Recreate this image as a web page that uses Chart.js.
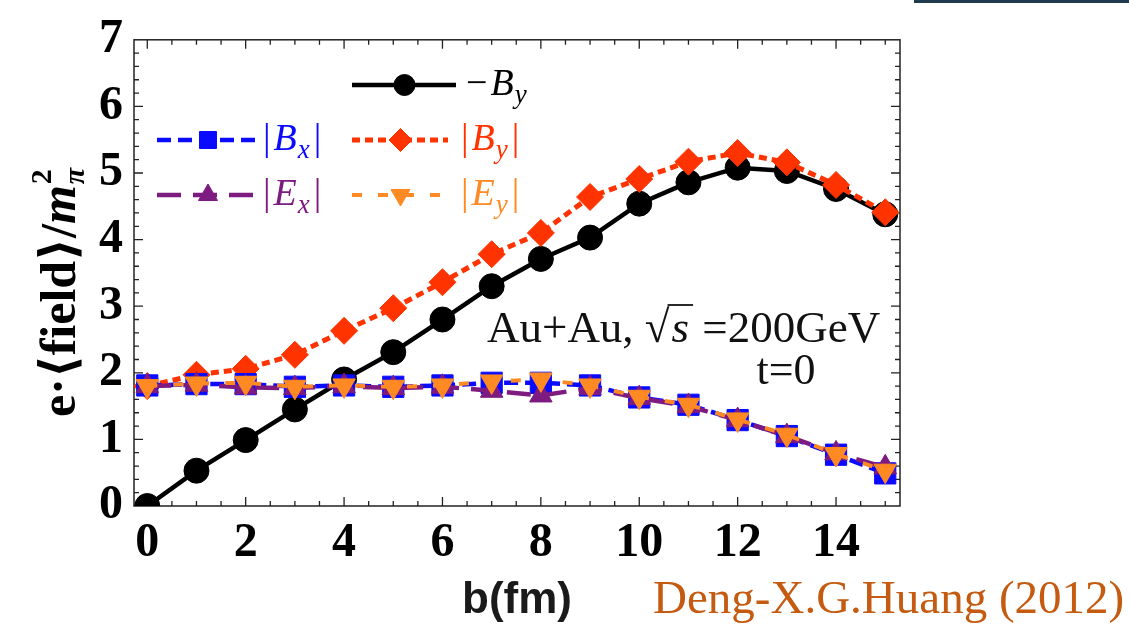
<!DOCTYPE html>
<html>
<head>
<meta charset="utf-8">
<title>e field vs b</title>
<script src="https://cdn.jsdelivr.net/npm/chart.js@4.4.1/dist/chart.umd.min.js"></script>
<style>
  html, body { margin: 0; padding: 0; background: #fff; }
  canvas { display: block; }
</style>
</head>
<body>
<canvas id="fields" width="1129" height="624"></canvas>
<script>
// impact parameter b (fm)
const impactParams = [0, 1, 2, 3, 4, 5, 6, 7, 8, 9, 10, 11, 12, 13, 14, 15];

// e<field>/m_pi^2
const minusBy = [0.0, 0.53, 0.99, 1.45, 1.90, 2.31, 2.80, 3.30, 3.71, 4.03, 4.54, 4.86, 5.08, 5.03, 4.76, 4.38];
const absBy   = [1.80, 1.97, 2.06, 2.27, 2.63, 2.97, 3.36, 3.78, 4.10, 4.64, 4.91, 5.17, 5.30, 5.16, 4.82, 4.41];
const absBx   = [1.81, 1.83, 1.83, 1.79, 1.81, 1.79, 1.81, 1.85, 1.85, 1.81, 1.63, 1.52, 1.29, 1.05, 0.77, 0.49];
const absEx   = [1.80, 1.82, 1.78, 1.77, 1.80, 1.77, 1.79, 1.73, 1.66, 1.77, 1.62, 1.50, 1.29, 1.05, 0.79, 0.58];
const absEy   = [1.80, 1.84, 1.85, 1.79, 1.81, 1.79, 1.81, 1.87, 1.90, 1.81, 1.64, 1.52, 1.30, 1.07, 0.78, 0.53];

const xTickValues = [0, 2, 4, 6, 8, 10, 12, 14];
const yTickValues = [0, 1, 2, 3, 4, 5, 6, 7];

const SERIF = '"Liberation Serif", "Times New Roman", "DejaVu Serif", serif';
const SANS = '"Liberation Sans", Arial, sans-serif';

function toPoints(values) {
    let pts = [];
    for (let i = 0; i < values.length; i++) {
        pts.push({ x: impactParams[i], y: values[i] });
    }
    return pts;
}

function makeSeries(label, values, color, dash, width, pointStyle, radius, rotation) {
    return {
        label: label,
        data: toPoints(values),
        borderColor: color,
        backgroundColor: color,
        borderWidth: width,
        borderDash: dash,
        pointStyle: pointStyle,
        pointRadius: radius,
        pointRotation: rotation || 0,
        pointBorderColor: color,
        pointBackgroundColor: color,
        pointBorderWidth: 1,
        tension: 0
    };
}

// first dataset is drawn on top
const datasets = [
    makeSeries('|Ey|', absEy, '#ff8a24', [10, 16], 4, 'triangle', 13, 180),
    makeSeries('|Ex|', absEx, '#7e1b80', [24, 12], 4.5, 'triangle', 13, 0),
    makeSeries('|Bx|', absBx, '#0a0aff', [14, 7], 4.5, 'rect', 15, 0),
    makeSeries('|By|', absBy, '#ff3300', [8, 5], 5, 'rectRot', 13.5, 0),
    makeSeries('-By', minusBy, '#000000', [], 4.5, 'circle', 12.5, 0)
];

// where each legend row sits
const legendRows = [
    { ds: 4, x1: 352, x2: 456, y: 85, r: 10.5, textX: 466, pre: '\u2212', letter: 'B', sub: 'y', post: '' },
    { ds: 2, x1: 157, x2: 258, y: 140, r: 12, textX: 263, pre: '|', letter: 'B', sub: 'x', post: '|' },
    { ds: 3, x1: 352, x2: 448, y: 140, r: 11.5, textX: 461, pre: '|', letter: 'B', sub: 'y', post: '|' },
    { ds: 1, x1: 157, x2: 258, y: 195, r: 11, textX: 263, pre: '|', letter: 'E', sub: 'x', post: '|' },
    { ds: 0, x1: 352, x2: 448, y: 195, r: 11, textX: 461, pre: '|', letter: 'E', sub: 'y', post: '|' }
];

function drawPieces(ctx, x, y, pieces) {
    for (const p of pieces) {
        ctx.font = p.font;
        ctx.fillStyle = p.color;
        ctx.fillText(p.text, x, y + (p.dy || 0));
        x += ctx.measureText(p.text).width + (p.gap || 0);
    }
    return x;
}

const framePlugin = {
    id: 'frame',
    beforeDatasetsDraw(chart) {
        const ctx = chart.ctx;
        const a = chart.chartArea;
        const xs = chart.scales.x;
        const ys = chart.scales.y;
        ctx.save();
        ctx.strokeStyle = '#222';
        ctx.lineWidth = 1.5;
        ctx.strokeRect(a.left, a.top, a.right - a.left, a.bottom - a.top);
        ctx.lineWidth = 1.3;
        ctx.beginPath();
        for (let i = 0; i <= 30; i++) {
            const v = i / 2;
            const px = xs.getPixelForValue(v);
            const len = (i % 4 === 0) ? 9 : 5;
            ctx.moveTo(px, a.bottom); ctx.lineTo(px, a.bottom - len);
            ctx.moveTo(px, a.top); ctx.lineTo(px, a.top + len);
        }
        for (let i = 1; i < 35; i++) {
            const py = ys.getPixelForValue(i / 5);
            const len = (i % 5 === 0) ? 9 : 5;
            ctx.moveTo(a.left, py); ctx.lineTo(a.left + len, py);
            ctx.moveTo(a.right, py); ctx.lineTo(a.right - len, py);
        }
        ctx.stroke();
        ctx.restore();
    },
    afterDraw(chart) {
        const ctx = chart.ctx;
        ctx.save();

        // legend
        for (const row of legendRows) {
            const ds = chart.data.datasets[row.ds];
            ctx.save();
            ctx.strokeStyle = ds.borderColor;
            ctx.lineWidth = ds.borderWidth;
            ctx.setLineDash(ds.borderDash);
            ctx.beginPath();
            ctx.moveTo(row.x1, row.y);
            ctx.lineTo(row.x2, row.y);
            ctx.stroke();
            ctx.setLineDash([]);
            ctx.fillStyle = ds.backgroundColor;
            ctx.strokeStyle = ds.borderColor;
            ctx.lineWidth = 1;
            Chart.helpers.drawPoint(ctx, {
                pointStyle: ds.pointStyle,
                radius: row.r,
                rotation: ds.pointRotation,
                borderWidth: 1
            }, (row.x1 + row.x2) / 2 + 0.5, row.y);
            ctx.restore();

            ctx.textBaseline = 'alphabetic';
            ctx.textAlign = 'left';
            drawPieces(ctx, row.textX, row.y + 10, [
                { text: row.pre, font: '38px ' + SERIF, color: ds.borderColor, gap: 3 },
                { text: row.letter, font: 'italic 38px ' + SERIF, color: ds.borderColor, gap: 1 },
                { text: row.sub, font: 'italic 27px ' + SERIF, color: ds.borderColor, dy: 8, gap: 4 },
                { text: row.post, font: '38px ' + SERIF, color: ds.borderColor }
            ]);
        }

        // collision label
        ctx.textBaseline = 'alphabetic';
        ctx.textAlign = 'left';
        let x = drawPieces(ctx, 487, 342, [
            { text: 'Au+Au, ', font: '45px ' + SERIF, color: '#111' },
            { text: '\u221A', font: '45px ' + SERIF, color: '#111' }
        ]);
        ctx.font = 'italic 45px ' + SERIF;
        const sw = ctx.measureText('s').width;
        ctx.fillText('s', x + 2, 342);
        ctx.strokeStyle = '#111';
        ctx.lineWidth = 1.8;
        ctx.beginPath();
        ctx.moveTo(x - 2, 305);
        ctx.lineTo(x + sw + 6, 305);
        ctx.stroke();
        ctx.font = '45px ' + SERIF;
        ctx.fillText(' =200GeV', x + sw + 4, 342);
        ctx.textAlign = 'center';
        ctx.font = '44px ' + SERIF;
        ctx.fillText('t=0', 786, 384);

        // y axis title
        ctx.save();
        ctx.translate(75, 417);
        ctx.rotate(-Math.PI / 2);
        ctx.textAlign = 'left';
        x = drawPieces(ctx, 0, 0, [
            { text: 'e\u00B7\u27E8field\u27E9/', font: 'bold 50px ' + SERIF, color: '#000' },
            { text: 'm', font: 'italic bold 50px ' + SERIF, color: '#000', gap: 1 }
        ]);
        ctx.font = 'italic bold 30px ' + SERIF;
        ctx.fillText('\u03C0', x, 9);
        ctx.font = 'bold 30px ' + SERIF;
        ctx.fillText('2', x, -24);
        ctx.restore();

        // source note and slide edge
        ctx.textAlign = 'left';
        ctx.font = '47px ' + SERIF;
        ctx.fillStyle = '#c55a11';
        ctx.fillText('Deng-X.G.Huang (2012)', 653, 613);
        ctx.fillStyle = '#1f3b4d';
        ctx.fillRect(914, 0, 215, 3);

        ctx.restore();
    }
};

const ctxFields = document.getElementById('fields').getContext('2d');

const fieldConfig = {
    type: 'line',
    data: { datasets: datasets },
    options: {
        responsive: false,
        devicePixelRatio: 1,
        animation: false,
        layout: { padding: { left: 0, right: 229, top: 33, bottom: 0 } },
        plugins: {
            legend: { display: false },
            tooltip: { enabled: false }
        },
        scales: {
            x: {
                type: 'linear',
                min: -0.27,
                max: 15.3,
                grid: { display: false, drawTicks: false },
                border: { display: false },
                afterBuildTicks: function (scale) {
                    scale.ticks = xTickValues.map(v => ({ value: v }));
                },
                afterFit: function (scale) { scale.height = 118; },
                ticks: {
                    autoSkip: false,
                    maxRotation: 0,
                    padding: 9,
                    color: '#000',
                    font: { family: SERIF, size: 48, weight: 'bold' }
                },
                title: {
                    display: true,
                    text: 'b(fm)',
                    color: '#1a1a1a',
                    padding: { top: 0, bottom: -3 },
                    font: { family: SANS, size: 44, weight: 'bold' }
                }
            },
            y: {
                type: 'linear',
                min: 0,
                max: 7,
                grid: { display: false, drawTicks: false },
                border: { display: false },
                afterBuildTicks: function (scale) {
                    scale.ticks = yTickValues.map(v => ({ value: v }));
                },
                afterFit: function (scale) { scale.width = 134; },
                ticks: {
                    padding: 11,
                    color: '#000',
                    font: { family: SERIF, size: 48, weight: 'bold' }
                }
            }
        }
    },
    plugins: [framePlugin]
};

var fieldChart = new Chart(ctxFields, fieldConfig);
</script>
</body>
</html>
